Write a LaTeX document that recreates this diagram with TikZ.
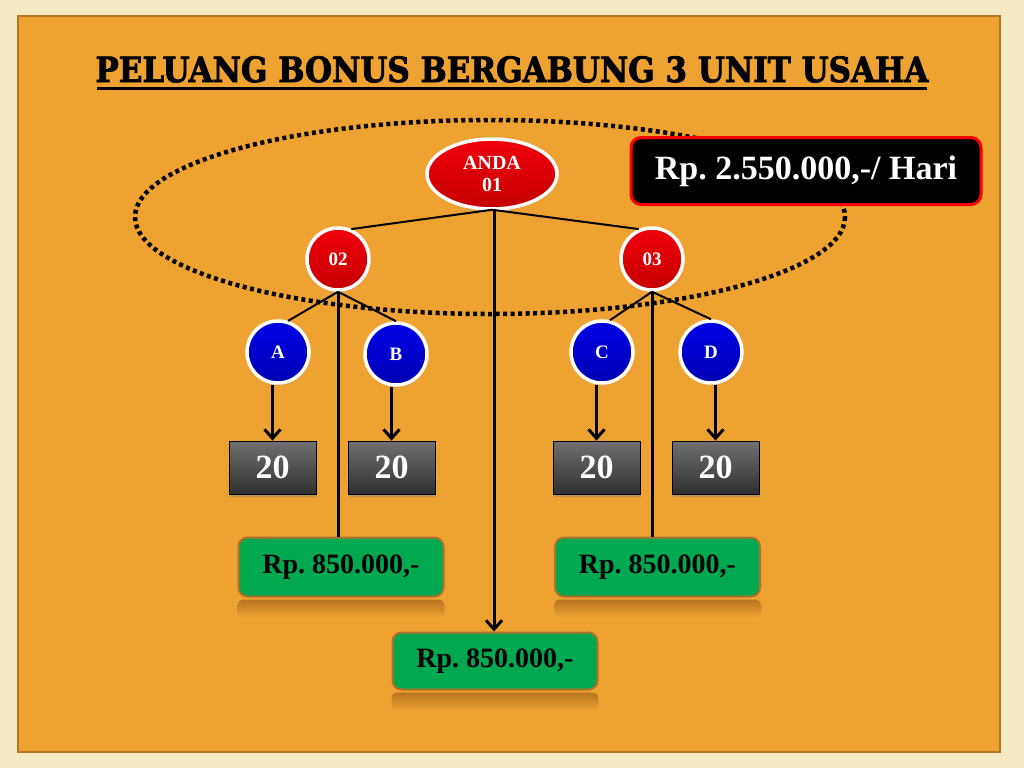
\documentclass[tikz,border=0pt]{standalone}
\usepackage{fontspec}
\setmainfont{Liberation Serif}
\newfontfamily\titlefont[FakeBold=2.5]{DejaVu Serif Bold}
\usetikzlibrary{shapes.geometric,arrows.meta,shadows}
\definecolor{cream}{RGB}{246,234,196}
\definecolor{panel}{RGB}{237,162,50}
\definecolor{panelborder}{RGB}{176,118,36}
\definecolor{redfill}{RGB}{240,0,12}
\definecolor{reddark}{RGB}{196,0,0}
\definecolor{bluefill}{RGB}{0,0,230}
\definecolor{bluedark}{RGB}{0,0,180}
\definecolor{greenfill}{RGB}{0,168,80}
\definecolor{greenborder}{RGB}{176,112,40}
\definecolor{graytop}{RGB}{112,112,112}
\definecolor{graybot}{RGB}{48,48,48}
\definecolor{reflect}{RGB}{185,116,32}
\frenchspacing
\begin{document}
\frenchspacing
\begin{tikzpicture}[x=1pt,y=-1pt,
  redc/.style={circle, draw=white, line width=3.5pt, top color=redfill, bottom color=reddark,
    minimum size=62pt, inner sep=0pt, text=white, font=\bfseries\fontsize{19}{19}\selectfont,
    drop shadow={opacity=0.35, shadow xshift=1pt, shadow yshift=-2pt}},
  bluec/.style={redc, top color=bluefill, bottom color=bluedark},
  andanode/.style={ellipse, draw=white, line width=3.5pt, top color=redfill, bottom color=reddark,
    minimum width=130pt, minimum height=70pt, inner sep=0pt, text=white, align=center,
    font=\bfseries\fontsize{20}{22}\selectfont,
    drop shadow={opacity=0.35, shadow xshift=1pt, shadow yshift=-2pt}},
  graybox/.style={rectangle, draw=black, line width=0.8pt, top color=graytop, bottom color=graybot,
    minimum width=87pt, minimum height=53pt, inner sep=0pt, text=white,
    font=\bfseries\fontsize{34}{34}\selectfont,
    drop shadow={opacity=0.45, shadow xshift=1pt, shadow yshift=-3pt}},
  greenbox/.style={rectangle, rounded corners=9pt, draw=greenborder, line width=2pt, fill=greenfill,
    minimum width=205pt, minimum height=59pt, inner sep=0pt, text=black,
    font=\bfseries\fontsize{28}{28}\selectfont},
  blackbox/.style={rectangle, rounded corners=10pt, draw=red, line width=3pt, fill=black,
    minimum width=350pt, minimum height=67pt, inner sep=0pt, text=white,
    font=\bfseries\fontsize{34}{34}\selectfont},
  thinline/.style={line width=2pt, black},
  stem/.style={line width=3pt, black},
  arr/.style={line width=3pt, black, -{Straight Barb[length=9pt,width=16pt,line width=3pt]}},
  dotring/.style={line width=4.5pt, black, dash pattern=on 4pt off 3.5pt}
]
\useasboundingbox (0,0) rectangle (1024,768);
\fill[cream] (0,0) rectangle (1024,768);
\draw[panelborder, line width=2pt, fill=panel] (18,16) rectangle (1000,752);

% title
\node[anchor=base, inner sep=0pt, font=\titlefont\fontsize{31}{31}\selectfont] (title) at (512,82)
  {\scalebox{1}[1.12]{PELUANG BONUS BERGABUNG 3 UNIT USAHA}};
\draw[line width=3pt] (97,88) -- (927,88);

% dotted ring
\draw[dotring] (490,217) ellipse [x radius=355, y radius=97];

% nodes
\node[andanode] (anda) at (492,174) {ANDA\\01};
\node[redc] (n02) at (338,259) {02};
\node[redc] (n03) at (652,259) {03};
\node[bluec] (A) at (278,352) {A};
\node[bluec] (B) at (396,354) {B};
\node[bluec] (C) at (602,352) {C};
\node[bluec] (D) at (711,352) {D};

\node[graybox] (g1) at (272.5,467.5) {20};
\node[graybox] (g2) at (391.5,467.5) {20};
\node[graybox] (g3) at (596.5,467.5) {20};
\node[graybox] (g4) at (715.5,467.5) {20};

\node[greenbox] (r1) at (341,567) {Rp. 850.000,-};
\node[greenbox] (r2) at (657.5,567) {Rp. 850.000,-};
\node[greenbox, minimum height=57pt] (r3) at (495,661) {Rp. 850.000,-};
\foreach \n in {r1,r2,r3} {
  \shade[top color=reflect, bottom color=panel, rounded corners=6pt]
    ([yshift=-2pt]\n.south west) rectangle ([yshift=-20pt]\n.south east);
}

\node[blackbox] (tot) at (806,171) {Rp. 2.550.000,-/ Hari};

% connectors
\draw[thinline] ([yshift=1pt]anda.south) -- (n02.66);
\draw[thinline] ([yshift=1pt]anda.south) -- (n03.114);
\draw[arr] ([xshift=2pt]anda.south) -- ([xshift=2pt]anda.south |- r3.north);

\draw[thinline] (n02.south) -- (A.72);
\draw[thinline] (n02.south) -- (B.north);
\draw[stem] (n02.south) -- (n02.south |- r1.north);

\draw[thinline] (n03.south) -- (C.76);
\draw[thinline] (n03.south) -- (D.north);
\draw[stem] (n03.south) -- (n03.south |- r2.north);

\draw[arr] (A.south -| g1.north) -- (g1.north);
\draw[arr] (B.south -| g2.north) -- (g2.north);
\draw[arr] (C.south -| g3.north) -- (g3.north);
\draw[arr] (D.south -| g4.north) -- (g4.north);
\end{tikzpicture}
\end{document}
